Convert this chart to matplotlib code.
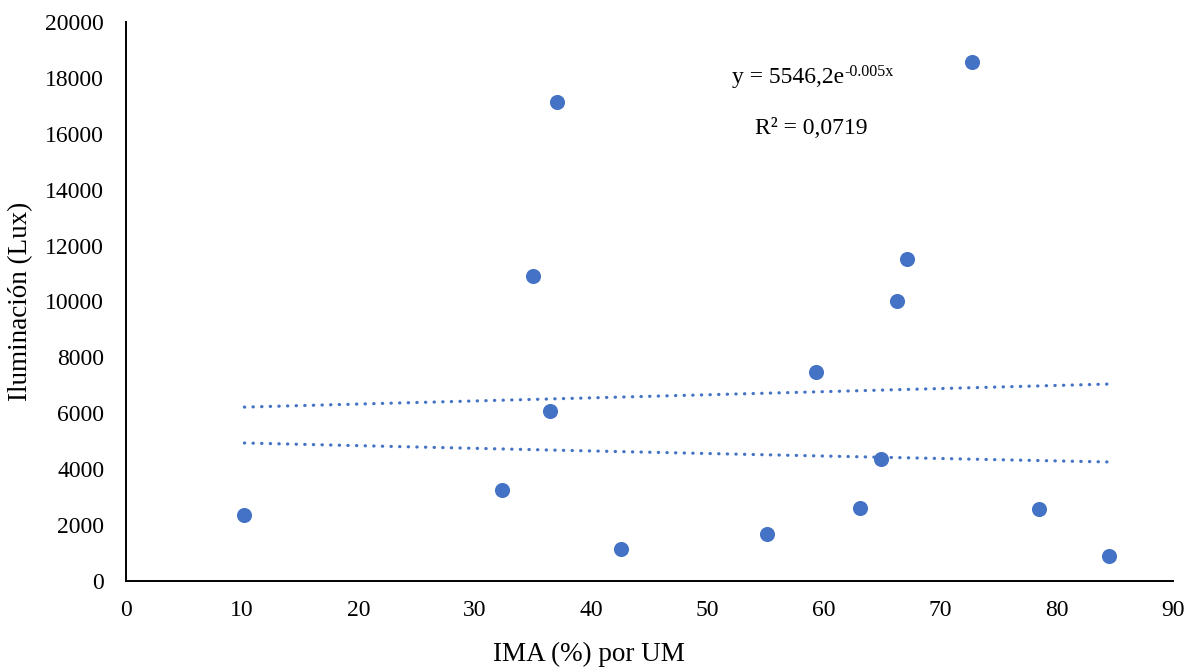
import matplotlib
matplotlib.use("Agg")
import matplotlib.pyplot as plt
import numpy as np

ima = [10.2, 32.3, 35.0, 36.5, 37.1, 42.6, 55.1, 59.3, 63.1, 64.9, 66.3, 67.1, 72.7, 78.5, 84.5]
lux = [2350, 3250, 10900, 6070, 17130, 1130, 1670, 7470, 2600, 4360, 10010, 11510, 18570, 2570, 880]

trend_x = [10.2, 84.5]
trend_exp_y = [4930, 4250]
trend_lin_y = [6215, 7040]

xticks = [0, 10, 20, 30, 40, 50, 60, 70, 80, 90]
yticks = [0, 2000, 4000, 6000, 8000, 10000, 12000, 14000, 16000, 18000, 20000]

plt.rcParams['font.family'] = ['Liberation Serif', 'DejaVu Serif']

blue = '#4472C4'
fig = plt.figure(figsize=(11.97, 6.68), dpi=100)
ax = fig.add_axes([0.105, 0.1307, 0.875, 0.8363])

ax.scatter(ima, lux, s=118, color=blue, zorder=3, linewidths=0)

# exponential trend (curve through endpoints) and linear trend
xs = np.linspace(trend_x[0], trend_x[1], 100)
k = np.log(trend_exp_y[1] / trend_exp_y[0]) / (trend_x[1] - trend_x[0])
ax.plot(xs, trend_exp_y[0] * np.exp(k * (xs - trend_x[0])), color=blue, lw=2.3,
        linestyle=(0, (0.1, 2.6)), dash_capstyle='round', zorder=2)
ax.plot(trend_x, trend_lin_y, color=blue, lw=2.3,
        linestyle=(0, (0.1, 2.6)), dash_capstyle='round', zorder=2)

ax.set_xlim(0, 90)
ax.set_ylim(0, 20000)
ax.set_xticks(xticks)
ax.set_yticks(yticks)
ax.tick_params(axis='both', length=0, labelsize=17)
ax.tick_params(axis='y', pad=15.5)
ax.tick_params(axis='x', pad=14)
for s in ['top', 'right']:
    ax.spines[s].set_visible(False)
for s in ['left', 'bottom']:
    ax.spines[s].set_linewidth(1.4)
    ax.spines[s].set_color('black')

ax.set_xlabel('IMA (%) por UM', fontsize=19.5)
ax.set_ylabel('Iluminación (Lux)', fontsize=19.5)
ax.xaxis.set_label_coords(0.4425, -0.11)
ax.yaxis.set_label_coords(-0.088, 0.5)

eq = ax.text(52.1, 17813, 'y = 5546,2e', fontsize=17, ha='left', va='baseline')
ax.annotate('-0.005x', xy=(1, 0), xycoords=eq, xytext=(0, 8.6),
            textcoords='offset points', fontsize=11.5, ha='left', va='baseline')
ax.text(54.1, 16203, 'R² = 0,0719', fontsize=17, ha='left', va='center')

fig.savefig('out.png', dpi=100)
